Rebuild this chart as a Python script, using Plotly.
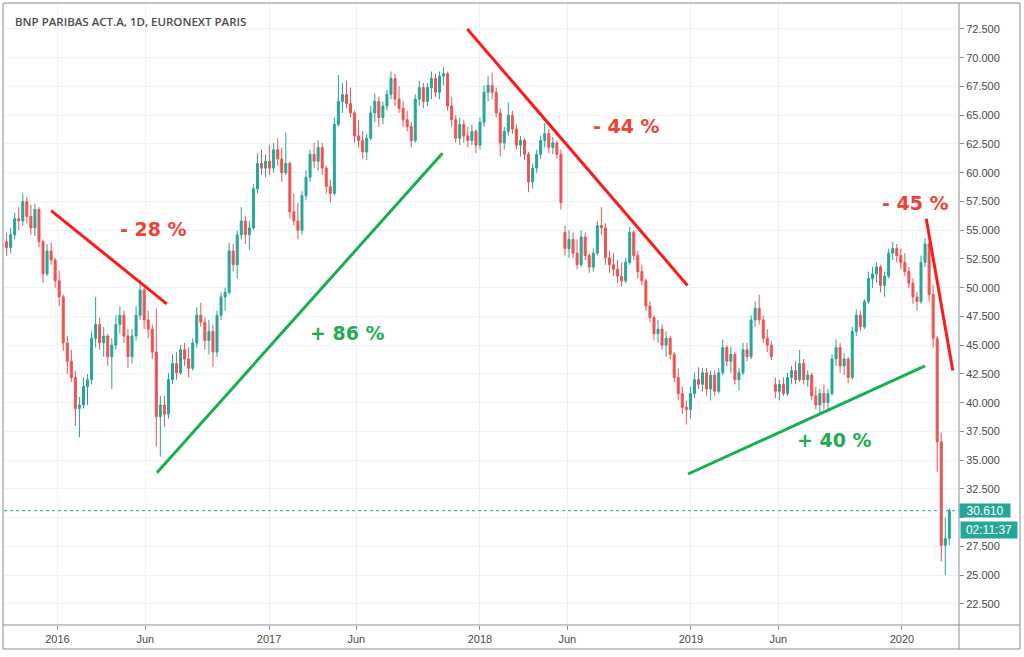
import pandas as pd
import plotly.graph_objects as go

# ---------------- data (weekly OHLC) ----------------
week_start = "2015-10-05"
n_weeks = 234

open_ = [
    54.0, 53.5, 54.6, 56.0, 55.8, 57.5, 56.2, 55.2, 56.8, 54.0,
    51.2, 53.2, 52.4, 50.6, 49.2, 45.2, 43.6, 42.2, 39.5, 39.8,
    41.4, 42.0, 45.6, 46.8, 45.2, 45.8, 44.0, 45.0, 46.8, 47.6,
    45.8, 44.0, 45.8, 47.6, 49.8, 47.2, 46.4, 44.4, 38.8, 39.8,
    39.0, 42.0, 43.4, 42.6, 44.6, 43.8, 43.0, 45.2, 47.6, 47.0,
    45.4, 46.2, 44.4, 47.6, 49.2, 49.6, 53.2, 52.0, 54.6, 55.8,
    54.6, 55.2, 58.6, 60.8, 60.4, 61.0, 60.4, 62.0, 61.2, 60.0,
    60.8, 56.6, 55.8, 55.0, 58.0, 59.6, 61.6, 61.0, 62.2, 60.4,
    58.8, 58.2, 64.2, 66.2, 66.8, 66.0, 65.2, 63.2, 62.8, 61.8,
    63.0, 65.2, 66.2, 64.8, 65.8, 66.8, 68.2, 66.4, 65.6, 64.6,
    64.0, 62.8, 66.4, 67.4, 66.2, 67.4, 68.2, 67.0, 68.4, 68.6,
    65.8, 64.6, 63.0, 64.2, 63.2, 62.8, 63.6, 62.4, 64.4, 67.0,
    67.6, 67.0, 65.2, 62.6, 63.6, 65.0, 63.8, 62.4, 62.8, 61.6,
    59.2, 60.4, 61.6, 62.8, 63.4, 62.2, 62.6, 61.6, 54.8, 53.4,
    54.2, 53.0, 52.0, 54.4, 52.8, 51.8, 53.0, 55.4, 55.2, 52.6,
    52.0, 51.6, 51.0, 50.6, 52.2, 54.8, 52.8, 51.4, 50.6, 48.4,
    47.4, 46.0, 46.4, 45.0, 45.6, 44.2, 42.2, 40.8, 39.6, 39.4,
    40.8, 42.0, 41.6, 42.6, 41.2, 42.4, 41.0, 42.6, 44.8, 43.6,
    44.2, 42.0, 42.6, 44.6, 44.0, 47.2, 48.2, 47.2, 45.6, 45.0,
    41.6, 41.0, 41.6, 40.8, 42.2, 42.8, 42.0, 43.4, 42.0, 42.4,
    40.6, 39.8, 40.8, 40.0, 40.8, 43.8, 44.8, 43.2, 43.8, 42.2,
    46.2, 47.6, 46.6, 48.8, 50.8, 51.2, 51.8, 50.2, 51.0, 53.0,
    53.4, 52.8, 52.2, 51.4, 50.4, 49.2, 48.8, 52.2, 53.8, 49.4,
    45.6, 36.6, 27.6, 28.2,
]
high = [
    54.8, 55.2, 56.5, 57.0, 58.2, 57.9, 57.2, 57.3, 57.0, 54.2,
    53.8, 53.9, 52.6, 51.5, 49.4, 45.8, 44.6, 42.8, 40.5, 42.2,
    42.5, 46.2, 49.2, 47.4, 46.6, 46.0, 45.6, 47.6, 48.4, 48.0,
    46.4, 46.4, 48.4, 50.7, 50.0, 48.0, 46.8, 48.2, 40.6, 40.6,
    42.6, 44.2, 44.4, 45.0, 45.2, 44.8, 45.6, 48.3, 48.7, 47.4,
    47.2, 46.8, 48.0, 49.6, 50.0, 53.9, 53.8, 55.0, 57.0, 56.2,
    55.8, 59.0, 61.7, 62.0, 61.6, 62.4, 62.6, 63.0, 62.2, 63.5,
    61.0, 58.2, 57.4, 58.4, 60.2, 62.0, 62.6, 62.8, 62.6, 60.6,
    59.4, 64.8, 68.5, 67.8, 68.0, 67.4, 65.4, 64.6, 63.6, 63.4,
    65.8, 66.9, 66.6, 66.2, 67.2, 68.8, 68.6, 67.5, 66.2, 65.4,
    64.4, 66.8, 68.0, 67.8, 67.8, 68.8, 68.6, 68.8, 69.2, 68.8,
    66.6, 65.0, 64.8, 64.6, 64.0, 64.2, 63.8, 64.8, 67.6, 68.4,
    68.7, 67.4, 65.6, 64.0, 66.1, 65.4, 64.2, 63.2, 63.0, 61.8,
    60.8, 62.0, 63.2, 64.3, 63.8, 63.1, 62.8, 62.0, 55.4, 55.0,
    54.8, 54.2, 55.0, 54.8, 53.0, 53.4, 55.8, 57.0, 55.6, 53.2,
    53.0, 52.4, 52.2, 52.6, 55.3, 55.0, 53.2, 52.0, 50.8, 48.8,
    47.6, 47.2, 46.8, 46.2, 45.8, 44.4, 43.0, 41.4, 40.2, 41.4,
    42.6, 43.1, 43.0, 43.0, 42.8, 42.8, 43.0, 45.5, 45.0, 44.9,
    44.4, 43.0, 45.2, 45.2, 47.6, 48.8, 49.4, 47.6, 46.4, 45.4,
    42.2, 42.0, 42.2, 42.6, 43.2, 43.6, 44.6, 43.8, 42.8, 42.6,
    41.4, 41.2, 41.6, 41.2, 44.2, 45.5, 45.2, 44.3, 44.0, 46.6,
    48.1, 48.0, 49.0, 51.4, 51.8, 52.2, 52.0, 51.4, 53.4, 54.0,
    53.8, 53.4, 53.0, 51.8, 50.8, 49.6, 52.8, 54.3, 54.0, 50.2,
    45.8, 37.4, 30.0, 30.8,
]
low = [
    52.8, 53.0, 54.2, 55.0, 55.4, 55.6, 54.6, 54.5, 53.5, 50.4,
    51.0, 52.0, 50.0, 48.4, 44.5, 42.5, 41.8, 38.0, 37.0, 39.5,
    39.8, 41.6, 44.8, 44.6, 44.0, 43.2, 41.2, 44.6, 46.0, 45.2,
    43.0, 43.4, 45.4, 47.2, 46.4, 45.6, 43.8, 36.2, 35.3, 37.9,
    38.6, 41.6, 42.0, 42.4, 43.2, 42.2, 42.8, 44.8, 46.6, 44.6,
    44.2, 43.1, 44.0, 47.2, 48.0, 49.4, 51.4, 50.8, 54.2, 53.8,
    53.3, 55.0, 58.2, 59.8, 59.6, 59.8, 60.0, 60.6, 59.2, 59.8,
    56.0, 55.4, 54.2, 54.6, 57.6, 59.2, 60.4, 60.2, 59.8, 58.2,
    57.4, 58.0, 64.0, 65.2, 65.6, 64.8, 62.6, 62.2, 61.2, 61.1,
    62.8, 64.4, 64.0, 64.2, 65.4, 66.4, 65.8, 65.2, 64.0, 63.6,
    62.2, 62.6, 65.8, 65.6, 65.8, 66.4, 66.6, 66.4, 67.6, 65.4,
    64.0, 62.6, 62.4, 62.6, 62.2, 62.4, 61.7, 62.0, 64.0, 66.2,
    66.4, 64.8, 61.4, 62.0, 63.2, 63.4, 62.0, 61.4, 61.1, 58.3,
    58.6, 60.0, 61.2, 62.2, 61.7, 61.6, 61.2, 56.8, 52.8, 52.6,
    52.6, 51.6, 51.8, 52.4, 51.3, 51.4, 52.8, 54.6, 52.0, 51.3,
    51.0, 50.4, 50.1, 50.4, 52.0, 52.4, 50.8, 50.2, 48.0, 47.0,
    45.4, 45.2, 44.6, 44.0, 43.8, 41.8, 40.2, 39.0, 38.1, 38.6,
    40.4, 41.2, 41.0, 40.6, 40.2, 40.6, 40.8, 42.4, 43.2, 42.6,
    41.6, 41.1, 42.4, 43.6, 43.8, 46.6, 46.8, 45.2, 44.4, 43.7,
    40.4, 40.2, 40.6, 40.6, 41.6, 41.6, 41.8, 41.6, 41.4, 40.2,
    39.4, 38.9, 39.4, 39.4, 40.6, 43.2, 42.6, 42.4, 41.7, 42.0,
    45.8, 46.2, 46.4, 48.6, 50.0, 50.4, 49.6, 49.2, 50.8, 52.4,
    52.2, 51.6, 51.0, 50.0, 48.6, 48.0, 48.6, 51.8, 48.8, 44.8,
    34.0, 26.2, 25.0, 27.6,
]
close = [
    53.5, 54.6, 56.0, 55.8, 57.5, 56.2, 55.2, 56.8, 54.0, 51.2,
    53.2, 52.4, 50.6, 49.2, 45.2, 43.6, 42.2, 39.5, 39.8, 41.4,
    42.0, 45.6, 46.8, 45.2, 45.8, 44.0, 45.0, 46.8, 47.6, 45.8,
    44.0, 45.8, 47.6, 49.8, 47.2, 46.4, 44.4, 38.8, 39.8, 39.0,
    42.0, 43.4, 42.6, 44.6, 43.8, 43.0, 45.2, 47.6, 47.0, 45.4,
    46.2, 44.4, 47.6, 49.2, 49.6, 53.2, 52.0, 54.6, 55.8, 54.6,
    55.2, 58.6, 60.8, 60.4, 61.0, 60.4, 62.0, 61.2, 60.0, 60.8,
    56.6, 55.8, 55.0, 58.0, 59.6, 61.6, 61.0, 62.2, 60.4, 58.8,
    58.2, 64.2, 66.2, 66.8, 66.0, 65.2, 63.2, 62.8, 61.8, 63.0,
    65.2, 66.2, 64.8, 65.8, 66.8, 68.2, 66.4, 65.6, 64.6, 64.0,
    62.8, 66.4, 67.4, 66.2, 67.4, 68.2, 67.0, 68.4, 68.6, 65.8,
    64.6, 63.0, 64.2, 63.2, 62.8, 63.6, 62.4, 64.4, 67.0, 67.6,
    67.0, 65.2, 62.6, 63.6, 65.0, 63.8, 62.4, 62.8, 61.6, 59.2,
    60.4, 61.6, 62.8, 63.4, 62.2, 62.6, 61.6, 57.4, 53.4, 54.2,
    53.0, 52.0, 54.4, 52.8, 51.8, 53.0, 55.4, 55.2, 52.6, 52.0,
    51.6, 51.0, 50.6, 52.2, 54.8, 52.8, 51.4, 50.6, 48.4, 47.4,
    46.0, 46.4, 45.0, 45.6, 44.2, 42.2, 40.8, 39.6, 39.4, 40.8,
    42.0, 41.6, 42.6, 41.2, 42.4, 41.0, 42.6, 44.8, 43.6, 44.2,
    42.0, 42.6, 44.6, 44.0, 47.2, 48.2, 47.2, 45.6, 45.0, 44.0,
    41.0, 41.6, 40.8, 42.2, 42.8, 42.0, 43.4, 42.0, 42.4, 40.6,
    39.8, 40.8, 40.0, 40.8, 43.8, 44.8, 43.2, 43.8, 42.2, 46.2,
    47.6, 46.6, 48.8, 50.8, 51.2, 51.8, 50.2, 51.0, 53.0, 53.4,
    52.8, 52.2, 51.4, 50.4, 49.2, 48.8, 52.2, 53.8, 49.4, 45.6,
    36.6, 27.6, 28.2, 30.61,
]

last_price = 30.61
countdown = "02:11:37"
title_text = "BNP PARIBAS ACT.A, 1D, EURONEXT PARIS"

x_tick_vals = ["2016-01-01", "2016-06-01", "2017-01-01", "2017-06-01", "2018-01-01",
               "2018-06-01", "2019-01-01", "2019-06-01", "2020-01-01"]
x_tick_text = ["2016", "Jun", "2017", "Jun", "2018", "Jun", "2019", "Jun", "2020"]
y_tick_vals = [22.5 + 2.5 * k for k in range(21)]
# the 30.000 label sits under the last-price tag in the reference, so it is not shown
y_tick_text = ["" if v == 30.0 else f"{v:.3f}" for v in y_tick_vals]

# trend lines: (start date, start price, end date, end price, colour)
trend_lines = [
    ("2015-12-21", 56.7, "2016-07-08", 48.6, "#ff1a1a"),
    ("2016-06-21", 33.9, "2017-10-28", 61.7, "#17b04c"),
    ("2017-12-10", 72.5, "2018-12-26", 50.2, "#ff1a1a"),
    ("2018-12-27", 33.8, "2020-02-10", 43.2, "#17b04c"),
    ("2020-02-12", 56.0, "2020-03-29", 42.8, "#ff1a1a"),
]
# labels: (text, date, price, colour)
trend_labels = [
    ("- 28 %", "2016-06-16", 55.1, "#ef4136"),
    ("+ 86 %", "2017-05-16", 46.1, "#1fae4f"),
    ("- 44 %", "2018-09-12", 64.1, "#ef4136"),
    ("+ 40 %", "2019-09-07", 36.8, "#1fae4f"),
    ("- 45 %", "2020-01-25", 57.4, "#ef4136"),
]

dates = pd.date_range(week_start, periods=n_weeks, freq="7D")

fig = go.Figure()
fig.add_trace(go.Candlestick(
    x=dates, open=open_, high=high, low=low, close=close,
    increasing=dict(line=dict(color="#26a69a", width=1), fillcolor="#26a69a"),
    decreasing=dict(line=dict(color="#ef5350", width=1), fillcolor="#ef5350"),
    whiskerwidth=0, showlegend=False, hoverinfo="skip",
))

shapes = []
for d0, p0, d1, p1, col in trend_lines:
    shapes.append(dict(type="line", xref="x", yref="y", x0=d0, y0=p0, x1=d1, y1=p1,
                       line=dict(color=col, width=3)))

# last price dotted line
shapes.append(dict(type="line", xref="paper", yref="y", x0=0, x1=1, y0=last_price, y1=last_price,
                   line=dict(color="#26a69a", width=1, dash="dot")))

frame_col = "#8a8d96"
L, R, T, B = 4, 959, 4, 625
W, H = R - L, B - T
def px(xp):
    return (xp - L) / W
def py(yp):
    return (B - yp) / H
shapes.append(dict(type="rect", xref="paper", yref="paper", x0=px(3), x1=px(1020), y0=py(649), y1=py(3),
                   line=dict(color=frame_col, width=1), fillcolor="rgba(0,0,0,0)", layer="above"))
shapes.append(dict(type="line", xref="paper", yref="paper", x0=1, x1=1, y0=py(649), y1=py(3),
                   line=dict(color=frame_col, width=1), layer="above"))
shapes.append(dict(type="line", xref="paper", yref="paper", x0=px(3), x1=px(1020), y0=0, y1=0,
                   line=dict(color=frame_col, width=1), layer="above"))

annotations = []
for txt, d, p, col in trend_labels:
    annotations.append(dict(text=txt, x=d, y=p, xref="x", yref="y", showarrow=False,
                            font=dict(family="DejaVu Sans", size=19, color=col, weight="bold")))
annotations.append(dict(text=title_text, xref="paper", yref="paper", x=px(13), y=py(21),
                        xanchor="left", yanchor="middle", showarrow=False,
                        font=dict(family="Open Sans", size=11.5, color="#4a4a4a", weight=600)))
annotations.append(dict(text=f"{last_price:.3f}", xref="paper", yref="y", x=1, y=last_price,
                        xanchor="left", yanchor="middle", showarrow=False, bgcolor="#26a69a",
                        width=48, height=11, borderpad=1,
                        font=dict(family="Liberation Sans", size=12, color="white")))
annotations.append(dict(text=countdown, xref="paper", yref="y", x=px(960), y=28.94,
                        xanchor="left", yanchor="middle", showarrow=False, bgcolor="#26a69a",
                        width=54, height=14, borderpad=1,
                        font=dict(family="Liberation Sans", size=12, color="white")))

fig.update_layout(
    width=1024, height=657,
    margin=dict(l=L, r=1024 - R, t=T, b=657 - B),
    paper_bgcolor="white", plot_bgcolor="white",
    shapes=shapes, annotations=annotations,
    xaxis=dict(type="date", range=["2015-09-30 12:00", "2020-04-08 17:00"],
               tickvals=x_tick_vals, ticktext=x_tick_text,
               showgrid=True, gridcolor="#eef1f6", gridwidth=1, zeroline=False,
               ticks="outside", ticklen=4, tickcolor=frame_col, showline=False,
               rangeslider=dict(visible=False),
               tickfont=dict(family="Liberation Sans", size=11, color="#4a4a4a")),
    yaxis=dict(side="right", range=[20.67, 74.67], tickvals=y_tick_vals, ticktext=y_tick_text,
               showgrid=True, gridcolor="#eef1f6", gridwidth=1, zeroline=False,
               ticks="outside", ticklen=4, tickcolor=frame_col, showline=False,
               tickfont=dict(family="Liberation Sans", size=11, color="#4a4a4a")),
)

fig.write_html("out.html")
